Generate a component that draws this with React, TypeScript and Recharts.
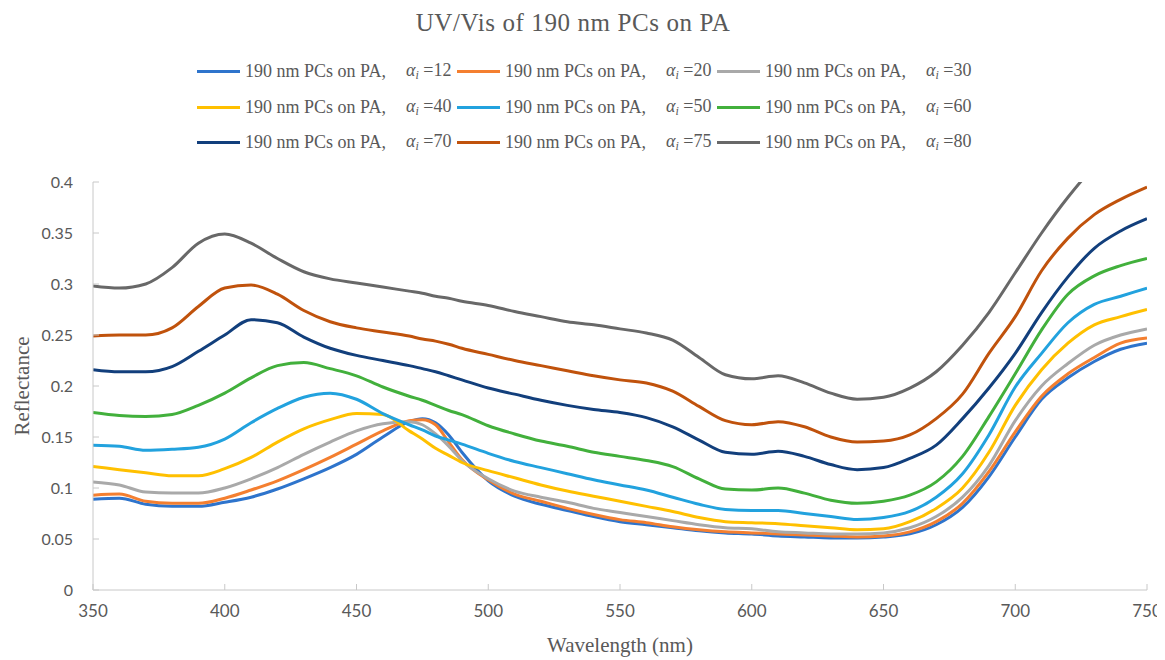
import { LineChart, Line, XAxis, YAxis, Label } from 'recharts'

// wavelength grid (nm); extra readings around the 470-490 crossover
const wavelengths = [
  350, 360, 370, 380, 390, 400, 410, 420, 430, 440,
  450, 460, 470, 475, 480, 485, 490, 500, 510, 520, 530, 540,
  550, 560, 570, 580, 590, 600, 610, 620, 630, 640,
  650, 660, 670, 680, 690, 700, 710, 720, 730, 740, 750,
]

const a12 = [
  0.089, 0.090, 0.084, 0.082, 0.082, 0.086, 0.091, 0.099, 0.109, 0.120,
  0.133, 0.150, 0.165, 0.168, 0.164, 0.152, 0.135, 0.107, 0.092, 0.084, 0.078, 0.072,
  0.067, 0.064, 0.061, 0.058, 0.056, 0.055, 0.053, 0.052, 0.051, 0.051,
  0.052, 0.055, 0.064, 0.081, 0.111, 0.150, 0.187, 0.208, 0.224, 0.236, 0.242,
]
const a20 = [
  0.093, 0.094, 0.087, 0.085, 0.085, 0.090, 0.098, 0.107, 0.118, 0.130,
  0.143, 0.156, 0.166, 0.167, 0.162, 0.145, 0.128, 0.108, 0.094, 0.087, 0.080, 0.074,
  0.069, 0.066, 0.062, 0.059, 0.057, 0.056, 0.055, 0.054, 0.053, 0.052,
  0.053, 0.057, 0.067, 0.085, 0.116, 0.155, 0.190, 0.212, 0.228, 0.242, 0.247,
]
const a30 = [
  0.106, 0.103, 0.096, 0.095, 0.095, 0.100, 0.109, 0.120, 0.133, 0.145,
  0.156, 0.163, 0.165, 0.162, 0.153, 0.141, 0.127, 0.109, 0.097, 0.091, 0.086, 0.080,
  0.076, 0.072, 0.068, 0.064, 0.061, 0.060, 0.057, 0.056, 0.055, 0.055,
  0.056, 0.061, 0.072, 0.091, 0.122, 0.166, 0.200, 0.222, 0.240, 0.250, 0.256,
]
const a40 = [
  0.121, 0.118, 0.115, 0.112, 0.112, 0.119, 0.130, 0.145, 0.158, 0.167,
  0.173, 0.172, 0.156, 0.148, 0.139, 0.132, 0.125, 0.117, 0.110, 0.103, 0.097, 0.092,
  0.087, 0.082, 0.077, 0.071, 0.067, 0.066, 0.065, 0.063, 0.061, 0.059,
  0.060, 0.067, 0.080, 0.100, 0.135, 0.181, 0.216, 0.242, 0.260, 0.268, 0.275,
]
const a50 = [
  0.142, 0.141, 0.137, 0.138, 0.140, 0.148, 0.164, 0.178, 0.189, 0.193,
  0.187, 0.173, 0.162, 0.157, 0.151, 0.147, 0.143, 0.134, 0.126, 0.120, 0.114, 0.108,
  0.103, 0.098, 0.091, 0.084, 0.079, 0.078, 0.078, 0.075, 0.072, 0.069,
  0.071, 0.077, 0.091, 0.114, 0.152, 0.199, 0.232, 0.262, 0.280, 0.288, 0.296,
]
const a60 = [
  0.174, 0.171, 0.170, 0.172, 0.181, 0.193, 0.208, 0.220, 0.223, 0.217,
  0.210, 0.199, 0.190, 0.186, 0.181, 0.176, 0.172, 0.161, 0.153, 0.146, 0.141, 0.135,
  0.131, 0.127, 0.121, 0.109, 0.099, 0.098, 0.100, 0.095, 0.088, 0.085,
  0.087, 0.093, 0.106, 0.131, 0.170, 0.212, 0.255, 0.290, 0.308, 0.318, 0.325,
]
const a70 = [
  0.216, 0.214, 0.214, 0.219, 0.234, 0.250, 0.265, 0.262, 0.248, 0.237,
  0.230, 0.225, 0.220, 0.217, 0.214, 0.210, 0.206, 0.198, 0.192, 0.186, 0.181, 0.177,
  0.174, 0.169, 0.160, 0.147, 0.135, 0.133, 0.136, 0.131, 0.123, 0.118,
  0.120, 0.129, 0.142, 0.168, 0.198, 0.232, 0.272, 0.307, 0.335, 0.352, 0.364,
]
const a75 = [
  0.249, 0.250, 0.250, 0.257, 0.278, 0.296, 0.299, 0.290, 0.274, 0.263,
  0.257, 0.253, 0.249, 0.246, 0.244, 0.241, 0.237, 0.231, 0.225, 0.220, 0.215, 0.210,
  0.206, 0.203, 0.195, 0.180, 0.166, 0.162, 0.165, 0.160, 0.150, 0.145,
  0.146, 0.152, 0.168, 0.192, 0.232, 0.268, 0.313, 0.345, 0.368, 0.383, 0.395,
]
const a80 = [
  0.298, 0.296, 0.300, 0.316, 0.340, 0.349, 0.340, 0.325, 0.312, 0.305,
  0.301, 0.297, 0.293, 0.291, 0.288, 0.286, 0.283, 0.279, 0.273, 0.268, 0.263, 0.260,
  0.256, 0.252, 0.245, 0.228, 0.211, 0.207, 0.210, 0.203, 0.193, 0.187,
  0.189, 0.198, 0.214, 0.240, 0.272, 0.311, 0.350, 0.385, 0.415, 0.435, 0.450,
]

const SERIES = [
  { key: 'a12', alpha: '12', color: '#2e74cc', values: a12 },
  { key: 'a20', alpha: '20', color: '#f47f30', values: a20 },
  { key: 'a30', alpha: '30', color: '#a9a9a9', values: a30 },
  { key: 'a40', alpha: '40', color: '#ffc000', values: a40 },
  { key: 'a50', alpha: '50', color: '#22a2de', values: a50 },
  { key: 'a60', alpha: '60', color: '#42b03c', values: a60 },
  { key: 'a70', alpha: '70', color: '#123f7c', values: a70 },
  { key: 'a75', alpha: '75', color: '#c0520c', values: a75 },
  { key: 'a80', alpha: '80', color: '#686868', values: a80 },
]

const xTicks = [350, 400, 450, 500, 550, 600, 650, 700, 750]
const yTicks = [0, 0.05, 0.1, 0.15, 0.2, 0.25, 0.3, 0.35, 0.4]

const data = wavelengths.map((w, i) => {
  const row: Record<string, number> = { wl: w }
  SERIES.forEach((s) => {
    row[s.key] = s.values[i]
  })
  return row
})

const TEXT = '#595959'
const AXIS = '#c8c8c8'
const SERIF = "'Liberation Serif', 'DejaVu Serif', serif"

function YTick(props: any) {
  const { x, y, payload } = props
  const ax = x + 20
  return (
    <g>
      <line x1={ax} y1={y} x2={ax + 6} y2={y} stroke={AXIS} />
      <text x={x} y={y} dy="0.35em" textAnchor="end" fill={TEXT} fontSize={16} fontFamily="Lato, sans-serif">
        {payload.value}
      </text>
    </g>
  )
}

function XTick(props: any) {
  const { x, y, payload } = props
  const ay = y - 14
  return (
    <g>
      <line x1={x} y1={ay} x2={x} y2={ay - 6} stroke={AXIS} />
      <text x={x} y={y} dy="0.75em" textAnchor="middle" fill={TEXT} fontSize={17} fontFamily="Lato, sans-serif">
        {payload.value}
      </text>
    </g>
  )
}

function LegendItem({ alpha, color }: { alpha: string; color: string }) {
  return (
    <div style={{ display: 'flex', alignItems: 'center', width: 260, height: 35.5, whiteSpace: 'nowrap' }}>
      <span style={{ width: 43, height: 3, background: color, marginRight: 5, flex: 'none' }} />
      <span style={{ width: 161, flex: 'none' }}>190 nm PCs on PA,</span>
      <span>
        <i>α</i>
        <sub style={{ fontSize: 12, verticalAlign: '-3px' }}>
          <i>i</i>
        </sub>{' '}
        ={alpha}
      </span>
    </div>
  )
}

export default function App() {
  return (
    <div style={{ position: 'relative', width: 1157, height: 652, fontFamily: SERIF, color: TEXT }}>
      <div
        style={{
          position: 'absolute',
          left: 0,
          width: 1130,
          top: 1,
          textAlign: 'center',
          fontSize: 25,
          letterSpacing: 0.6,
        }}
      >
        UV/Vis of 190 nm PCs on PA
      </div>
      <div
        style={{
          position: 'absolute',
          left: 189,
          top: 46,
          width: 780,
          display: 'flex',
          flexWrap: 'wrap',
          fontSize: 18,
        }}
      >
        {SERIES.map((s) => (
          <LegendItem key={s.key} alpha={s.alpha} color={s.color} />
        ))}
      </div>
      <LineChart width={1157} height={652} data={data} margin={{ top: 174, right: 18, bottom: 0, left: 0 }}>
        <XAxis
          dataKey="wl"
          type="number"
          domain={[350, 750]}
          ticks={xTicks}
          allowDataOverflow
          axisLine={{ stroke: AXIS }}
          tickLine={false}
          tickSize={0}
          tickMargin={14}
          tick={<XTick />}
          height={70}
        >
          <Label
            value="Wavelength (nm)"
            position="insideBottom"
            offset={8}
            style={{ fill: TEXT, fontSize: 21, fontFamily: SERIF }}
          />
        </XAxis>
        <YAxis
          type="number"
          domain={[0, 0.4]}
          ticks={yTicks}
          allowDataOverflow
          axisLine={{ stroke: AXIS }}
          tickLine={false}
          tickSize={0}
          tickMargin={20}
          tick={<YTick />}
          width={85}
        >
          <Label
            value="Reflectance"
            angle={-90}
            position="insideLeft"
            offset={14}
            style={{ fill: TEXT, fontSize: 21, fontFamily: SERIF, textAnchor: 'middle' }}
          />
        </YAxis>
        {SERIES.map((s) => (
          <Line
            key={s.key}
            dataKey={s.key}
            type="monotone"
            stroke={s.color}
            strokeWidth={3}
            dot={false}
            isAnimationActive={false}
          />
        ))}
      </LineChart>
    </div>
  )
}
